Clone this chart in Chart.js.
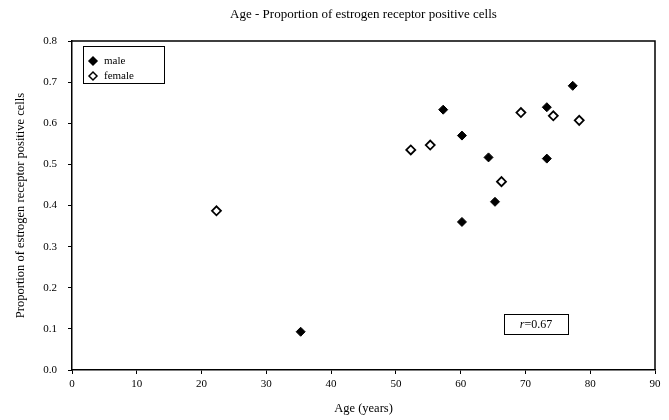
<!DOCTYPE html>
<html lang="en">
<head>
    <meta charset="UTF-8">
    <title>Age - Proportion of estrogen receptor positive cells</title>
    <script src="https://cdn.jsdelivr.net/npm/chart.js"></script>
    <style>
        html, body {
            margin: 0;
            padding: 0;
            background-color: #fff;
        }
        .chart-box {
            width: 669px;
            height: 420px;
        }
    </style>
</head>
<body>
<div class="chart-box">
    <canvas id="ageChart"></canvas>
</div>
<script>
    // values
    const maleAge = [35.3, 57.3, 60.2, 60.2, 64.3, 65.3, 73.3, 73.3, 77.3];
    const maleProp = [0.093, 0.633, 0.570, 0.360, 0.517, 0.409, 0.639, 0.514, 0.691];
    const femaleAge = [22.3, 52.3, 55.3, 66.3, 69.3, 74.3, 78.3];
    const femaleProp = [0.387, 0.535, 0.547, 0.458, 0.626, 0.618, 0.607];
    const seriesNames = ['male', 'female'];
    const corrText = '0.67';

    const serif = '"Liberation Serif", "DejaVu Serif", serif';

    const toPoints = (xs, ys) => xs.map((x, i) => ({x: x, y: ys[i]}));

    // frame, legend box and r box
    const extras = {
        id: 'extras',
        afterDraw(chart) {
            const ctx = chart.ctx;
            const a = chart.chartArea;
            ctx.save();
            ctx.strokeStyle = '#000';
            ctx.lineWidth = 1.5;
            ctx.beginPath();
            ctx.moveTo(a.left, a.top);
            ctx.lineTo(a.right, a.top);
            ctx.lineTo(a.right, a.bottom);
            ctx.stroke();

            // legend
            ctx.lineWidth = 1;
            ctx.strokeRect(a.left + 11.5, a.top + 5.5, 81, 37);
            ctx.font = '11px ' + serif;
            ctx.textBaseline = 'middle';
            ctx.fillStyle = '#000';
            chart.data.datasets.forEach((ds, i) => {
                const y = a.top + 20 + i * 15;
                const x = a.left + 21;
                ctx.beginPath();
                ctx.moveTo(x - 4, y);
                ctx.lineTo(x, y - 4);
                ctx.lineTo(x + 4, y);
                ctx.lineTo(x, y + 4);
                ctx.closePath();
                ctx.fillStyle = ds.backgroundColor;
                ctx.fill();
                ctx.lineWidth = 1.5;
                ctx.strokeStyle = '#000';
                ctx.stroke();
                ctx.fillStyle = '#000';
                ctx.textAlign = 'left';
                ctx.fillText(ds.label, x + 11, y);
            });

            // correlation box
            const xs = chart.scales.x, ys = chart.scales.y;
            const bx = xs.getPixelForValue(66.7), by = ys.getPixelForValue(0.136);
            ctx.lineWidth = 1;
            ctx.strokeRect(Math.round(bx) + 0.5, Math.round(by) + 0.5, 64, 20);
            ctx.font = 'italic 12px ' + serif;
            const w1 = ctx.measureText('r').width;
            ctx.font = '12px ' + serif;
            const w2 = ctx.measureText('=' + corrText).width;
            let tx = bx + 32 - (w1 + w2) / 2;
            const ty = by + 10.5;
            ctx.font = 'italic 12px ' + serif;
            ctx.fillText('r', tx, ty);
            ctx.font = '12px ' + serif;
            ctx.fillText('=' + corrText, tx + w1, ty);
            ctx.restore();
        }
    };

    new Chart(document.getElementById('ageChart'), {
        type: 'scatter',
        data: {
            datasets: [{
                label: seriesNames[0],
                data: toPoints(maleAge, maleProp),
                pointStyle: 'rectRot',
                radius: 4.5,
                backgroundColor: '#000',
                borderColor: '#000',
                borderWidth: 1
            }, {
                label: seriesNames[1],
                data: toPoints(femaleAge, femaleProp),
                pointStyle: 'rectRot',
                radius: 4.5,
                backgroundColor: '#fff',
                borderColor: '#000',
                borderWidth: 1.8
            }]
        },
        options: {
            responsive: true,
            maintainAspectRatio: false,
            animation: false,
            layout: {padding: {left: 0, right: 14, top: 0, bottom: 0}},
            plugins: {
                legend: {display: false},
                tooltip: {enabled: false},
                title: {
                    display: true,
                    text: 'Age - Proportion of estrogen receptor positive cells',
                    color: '#000',
                    fullSize: false,
                    font: {family: serif, size: 13, weight: 'normal'},
                    padding: {top: 7, bottom: 18.4}
                }
            },
            scales: {
                x: {
                    type: 'linear',
                    min: 0,
                    max: 90,
                    ticks: {stepSize: 10, color: '#000', padding: 4, font: {family: serif, size: 11}},
                    grid: {drawOnChartArea: false, tickLength: 4, color: '#000'},
                    border: {color: '#000', width: 1.5},
                    title: {
                        display: true,
                        text: 'Age (years)',
                        color: '#000',
                        font: {family: serif, size: 12.5},
                        padding: {top: 0, bottom: 4}
                    },
                    afterFit: s => { s.height = 50; }
                },
                y: {
                    min: 0,
                    max: 0.8,
                    ticks: {
                        stepSize: 0.1,
                        color: '#000',
                        padding: 11,
                        font: {family: serif, size: 11},
                        callback: v => v.toFixed(1)
                    },
                    grid: {drawOnChartArea: false, tickLength: 4, color: '#000'},
                    border: {color: '#000', width: 1.5},
                    title: {
                        display: true,
                        text: 'Proportion of estrogen receptor positive cells',
                        color: '#000',
                        font: {family: serif, size: 12.5},
                        padding: {top: 13, bottom: 0}
                    },
                    afterFit: s => { s.width = 72; }
                }
            }
        },
        plugins: [extras]
    });
</script>
</body>
</html>
